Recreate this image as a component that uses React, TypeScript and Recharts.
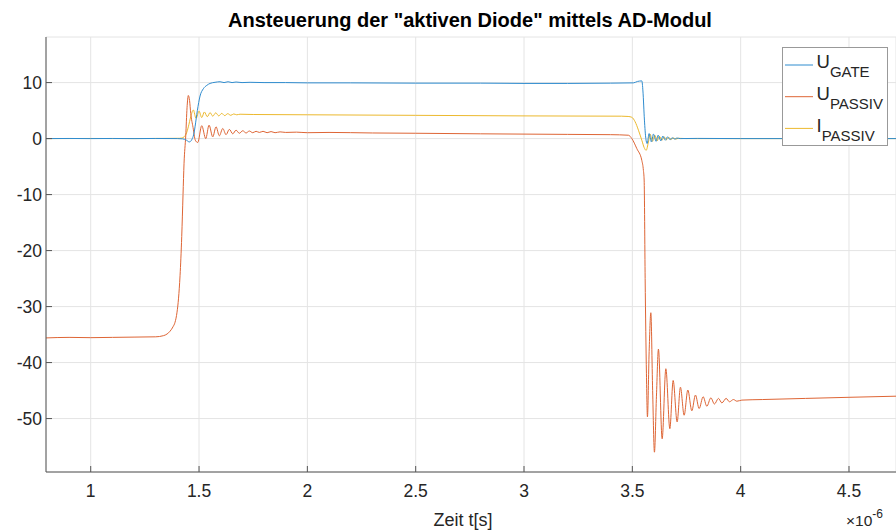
import React from 'react';
import { LineChart, Line, XAxis, YAxis, CartesianGrid, Legend } from 'recharts';

const chartTitle = 'Ansteuerung der "aktiven Diode" mittels AD-Modul';
const xLabel = 'Zeit t[s]';
const xTicks = [1, 1.5, 2, 2.5, 3, 3.5, 4, 4.5];
const yTicks = [10, 0, -10, -20, -30, -40, -50];
const xDomain: [number, number] = [0.7936, 4.717];
const yDomain: [number, number] = [-59.54, 18.14];

// time in microseconds, value
const uGate: [number, number][] = [
  [0.79, 0], [0.9, 0.02], [1.0, 0], [1.1, 0.02], [1.2, 0], [1.3, 0.02], [1.4, 0], [1.425, -0.05],
  [1.4423, -0.3], [1.4552, -0.6], [1.4631, -0.4], [1.469, 0], [1.4769, 1.0], [1.4815, 2.1],
  [1.4922, 5.0], [1.5046, 7.6], [1.5199, 8.9], [1.5356, 9.5], [1.5508, 9.85], [1.5739, 10.05],
  [1.597, 10.15], [1.6154, 10.0], [1.6339, 10.15], [1.6524, 10.0], [1.6708, 10.1], [1.6985, 10.0],
  [1.7355, 10.05], [1.8, 10.0], [1.9, 10.0], [2.0, 9.95], [2.2, 9.95], [2.5, 9.9], [2.8, 9.9],
  [3.0, 9.85], [3.2, 9.85], [3.4, 9.9], [3.505, 9.95], [3.5235, 10.2], [3.5438, 10.3],
  [3.5489, 8.5], [3.5558, 3.3], [3.5623, 0.0], [3.5683, -0.9], [3.5775, 0.9], [3.5882, -0.6],
  [3.5974, 0.8], [3.6099, -0.5], [3.6191, 0.6], [3.6316, -0.4], [3.6408, 0.45], [3.6528, -0.3],
  [3.662, 0.3], [3.6745, -0.2], [3.6837, 0.15], [3.6962, -0.1], [3.7054, 0.1], [3.7207, 0],
  [3.8, 0.03], [4.0, 0], [4.3, 0], [4.72, 0],
];

const uPassiv: [number, number][] = [
  [0.79, -35.6], [0.9, -35.5], [1.0, -35.55], [1.1, -35.5], [1.2, -35.45], [1.3, -35.4],
  [1.3352, -35.2], [1.3523, -34.9], [1.3661, -34.4], [1.38, -33.6], [1.3892, -32.8],
  [1.3984, -31.0], [1.4054, -28.5], [1.4123, -24.5], [1.4201, -17.5], [1.4261, -10.0],
  [1.4307, -4.5], [1.4386, 0.5], [1.4446, 5.5], [1.4506, 7.7], [1.4562, 6.8], [1.4617, 4.5],
  [1.4723, 2.0], [1.4829, -0.3], [1.494, -0.7], [1.5125, 2.3], [1.5309, 0.0], [1.5462, 2.4],
  [1.5633, 0.3], [1.5785, 2.1], [1.5937, 0.5], [1.6094, 1.8], [1.6247, 0.7], [1.6399, 1.65],
  [1.6556, 0.85], [1.6708, 1.5], [1.6861, 0.95], [1.7018, 1.4], [1.717, 1.0], [1.7322, 1.35],
  [1.7479, 1.05], [1.7632, 1.3], [1.7784, 1.1], [1.7955, 1.3], [1.814, 1.05], [1.8324, 1.25],
  [1.8509, 1.05], [1.874, 1.2], [1.9, 1.1], [1.95, 1.15], [2.0, 1.05], [2.1, 1.1], [2.3, 1.0],
  [2.5, 0.95], [2.8, 0.85], [3.0, 0.8], [3.2, 0.75], [3.4, 0.7], [3.4817, 0.6], [3.4977, 0.0],
  [3.5208, -1.8], [3.5438, -3.9], [3.5512, -5.7], [3.5545, -7.4], [3.5591, -25.0],
  [3.5651, -42.0], [3.5697, -49.7], [3.5776, -38.0], [3.5854, -31.1], [3.5937, -45.0],
  [3.602, -56.0], [3.6113, -46.0], [3.6205, -37.6], [3.6376, -53.6], [3.6547, -41.1],
  [3.6731, -51.8], [3.6884, -43.2], [3.7068, -50.6], [3.722, -44.4], [3.7391, -49.4],
  [3.7562, -44.9], [3.7746, -48.6], [3.7913, -45.8], [3.8084, -48.2], [3.8268, -46.1],
  [3.8439, -47.8], [3.8624, -46.3], [3.879, -47.4], [3.8975, -46.4], [3.9132, -47.2],
  [3.933, -46.4], [3.9483, -47.0], [3.9668, -46.6], [3.9825, -46.9], [4.0055, -46.7],
  [4.1, -46.6], [4.3, -46.4], [4.5, -46.2], [4.72, -46.0],
];

const iPassiv: [number, number][] = [
  [0.79, 0], [1.0, 0.02], [1.2, 0], [1.41, 0.05], [1.4201, 0.1], [1.4307, 0.3], [1.4423, 1.0],
  [1.4506, 2.1], [1.4617, 3.9], [1.4737, 5.1], [1.4861, 3.6], [1.5, 4.9], [1.5125, 3.75],
  [1.5245, 4.75], [1.5383, 3.9], [1.5508, 4.65], [1.5633, 4.0], [1.5771, 4.6], [1.591, 4.05],
  [1.6048, 4.5], [1.6186, 4.1], [1.6325, 4.45], [1.6463, 4.15], [1.6602, 4.4], [1.674, 4.25],
  [1.6893, 4.35], [1.75, 4.3], [2.0, 4.25], [2.5, 4.15], [3.0, 4.05], [3.45, 4.0],
  [3.4806, 3.95], [3.4977, 3.8], [3.5129, 3.0], [3.5282, 1.5], [3.5438, -0.3], [3.5545, -1.6],
  [3.5637, -2.1], [3.5743, -0.6], [3.5822, 0.8], [3.5928, -0.5], [3.6039, 0.6], [3.6145, -0.4],
  [3.6251, 0.4], [3.6362, -0.3], [3.6468, 0.3], [3.6575, -0.2], [3.6686, 0.2], [3.6792, -0.15],
  [3.6898, 0.12], [3.7008, -0.1], [3.7115, 0.05], [3.75, 0], [4.0, 0], [4.72, 0],
];

const seriesColors = ['#2f8ccf', '#de6535', '#ecb92e'];
const legendMain = ['U', 'U', 'I'];
const legendSub = ['GATE', 'PASSIV', 'PASSIV'];

const toRows = (pts: [number, number][]) => pts.map(([t, v]) => ({ t, v }));

const FONT = '"Liberation Sans", Arial, Helvetica, sans-serif';
const TXT = '#262626';

const YTick = (props: any) => {
  const { x, y, payload } = props;
  return (
    <g>
      <line x1={x} x2={x + 6} y1={y} y2={y} stroke="#555" />
      <text x={x - 4} y={y + 6} textAnchor="end" fontSize={17.5} fill={TXT} fontFamily={FONT}>
        {payload.value}
      </text>
    </g>
  );
};

const XTick = (props: any) => {
  const { x, y, payload } = props;
  return (
    <g>
      <line x1={x} x2={x} y1={y} y2={y - 6} stroke="#555" />
      <text x={x} y={y + 24.5} textAnchor="middle" fontSize={17.5} fill={TXT} fontFamily={FONT}>
        {payload.value}
      </text>
    </g>
  );
};

const XLabel = (props: any) => {
  const vb = props.viewBox || {};
  const baseY = (vb.y || 0) + 54;
  return (
    <g fontFamily={FONT} fill={TXT}>
      <text x={463} y={baseY} textAnchor="middle" fontSize={18}>{xLabel}</text>
      <text x={846} y={baseY - 0.5} fontSize={15.5}>
        ×10<tspan dy={-8} fontSize={12}>-6</tspan>
      </text>
    </g>
  );
};

const LegendBox = () => (
  <svg width={106} height={99} style={{ display: 'block' }}>
    <rect x={0.5} y={0.5} width={105} height={98} fill="#fff" stroke="#999" />
    {legendMain.map((m, i) => {
      const lineY = 18 + i * 31.7;
      const baseY = 21 + i * 31.8;
      return (
        <g key={i}>
          <line x1={3} x2={31} y1={lineY} y2={lineY} stroke={seriesColors[i]} strokeWidth={1} />
          <text x={34.5} y={baseY} fontSize={18.5} fill={TXT} fontFamily={FONT}>
            {m}
            <tspan dy={9} fontSize={15}>{legendSub[i]}</tspan>
          </text>
        </g>
      );
    })}
  </svg>
);

export default function App() {
  return (
    <div style={{ position: 'absolute', left: 0, top: 0, width: 896, height: 531, background: '#fff' }}>
      <div
        style={{
          position: 'absolute', left: 22, top: 9, width: 896, textAlign: 'center',
          fontFamily: FONT, fontWeight: 'bold', fontSize: 20, color: '#000', zIndex: 2,
          whiteSpace: 'nowrap',
        }}
      >
        {chartTitle}
      </div>
      <LineChart width={896} height={531} margin={{ top: 37, right: 0, bottom: 0, left: 0 }}>
        <CartesianGrid stroke="#e4e4e4" strokeWidth={1} />
        <XAxis
          dataKey="t"
          type="number"
          domain={xDomain}
          allowDataOverflow
          ticks={xTicks}
          interval={0}
          tickSize={0}
          tickMargin={0}
          tickLine={false}
          tick={<XTick />}
          height={59}
          axisLine={{ stroke: '#555' }}
          label={<XLabel />}
        />
        <YAxis
          type="number"
          domain={yDomain}
          allowDataOverflow
          ticks={yTicks}
          interval={0}
          tickSize={0}
          tickMargin={0}
          tickLine={false}
          tick={<YTick />}
          width={46}
          axisLine={{ stroke: '#555' }}
        />
        <Legend
          layout="vertical"
          align="center"
          verticalAlign="middle"
          wrapperStyle={{ left: 782, top: 47, width: 106, height: 99 }}
          content={() => <LegendBox />}
        />
        <Line data={toRows(iPassiv)} dataKey="v" name="IPASSIV" type="monotone" stroke={seriesColors[2]} strokeWidth={1} dot={false} isAnimationActive={false} />
        <Line data={toRows(uPassiv)} dataKey="v" name="UPASSIV" type="monotone" stroke={seriesColors[1]} strokeWidth={1} dot={false} isAnimationActive={false} />
        <Line data={toRows(uGate)} dataKey="v" name="UGATE" type="monotone" stroke={seriesColors[0]} strokeWidth={1} dot={false} isAnimationActive={false} />
      </LineChart>
    </div>
  );
}
